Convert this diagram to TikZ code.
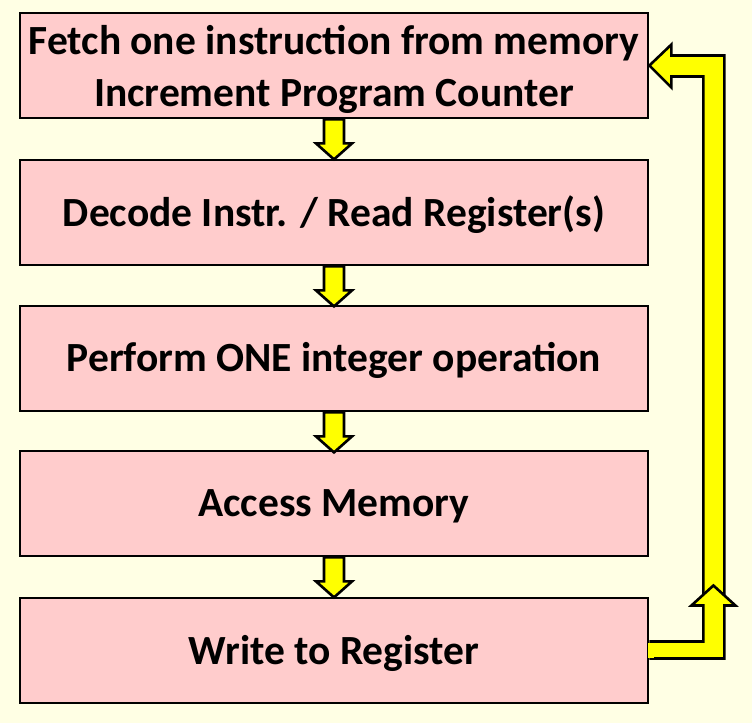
\documentclass[tikz,border=0pt]{standalone}
\usepackage{fontspec}
\setmainfont{Carlito}
\definecolor{bgcol}{RGB}{255,255,228}
\definecolor{boxcol}{RGB}{255,204,204}
\definecolor{arrcol}{RGB}{255,255,0}
\begin{document}
\begin{tikzpicture}[x=1pt,y=-1pt,
  stepbox/.style={draw=black, line width=2.8pt, fill=boxcol, minimum width=628pt, minimum height=105pt,
    inner sep=0pt},
  steptext/.style={inner sep=0pt, align=center, font=\fontsize{41.5}{52}\selectfont\bfseries, text=black},
  fatarrow/.style={draw=black, line width=2.6pt, fill=arrcol, line join=miter}]
\fill[bgcol] (0,0) rectangle (752,723);
\useasboundingbox (0,0) rectangle (752,723);
\node[stepbox] (b1) at (334,65.5) {};
\node[stepbox] (b2) at (334,212.5) {};
\node[stepbox] (b3) at (334,358.5) {};
\node[stepbox] (b4) at (334,503.5) {};
\node[stepbox] (b5) at (334,650.5) {};
\node[steptext] (t1) at ([yshift=-3.5pt]b1.center) {Fetch one instruction from memory\\Increment Program Counter};
\node[steptext] (t2) at ([yshift=-2pt]b2.center) {Decode Instr. / Read Register(s)};
\node[steptext] (t3) at ([yshift=-2pt]b3.center) {Perform ONE integer operation};
\node[steptext] (t4) at ([yshift=-3pt]b4.center) {Access Memory};
\node[steptext] (t5) at ([yshift=-3pt]b5.center) {Write to Register};
\foreach \a/\b in {b1/b2,b2/b3,b3/b4,b4/b5}{
  \draw[fatarrow] (\a.south) ++(-10,0) -- ++(0,24) -- ++(-8,0) -- ++(18,16) -- ++(18,-16) -- ++(-8,0) -- ++(0,-24) -- cycle;
}
\draw[fatarrow] (b1.east) -- ++(22,-21) -- ++(0,11) -- ++(53,0) -- ++(0,540) -- ++(-21,0) -- ++(0,-519) -- ++(-32,0) -- ++(0,11) -- cycle;
\draw[fatarrow] (b5.east) ++(0,-9) -- ++(54,0) -- ++(0,-36) -- ++(-12,0) -- ++(22,-20) -- ++(22,20) -- ++(-11,0) -- ++(0,53) -- ++(-75,0);
\fill[arrcol] (b5.east) ++(-1,-7.7) rectangle ++(6,15.4);
\end{tikzpicture}
\end{document}
